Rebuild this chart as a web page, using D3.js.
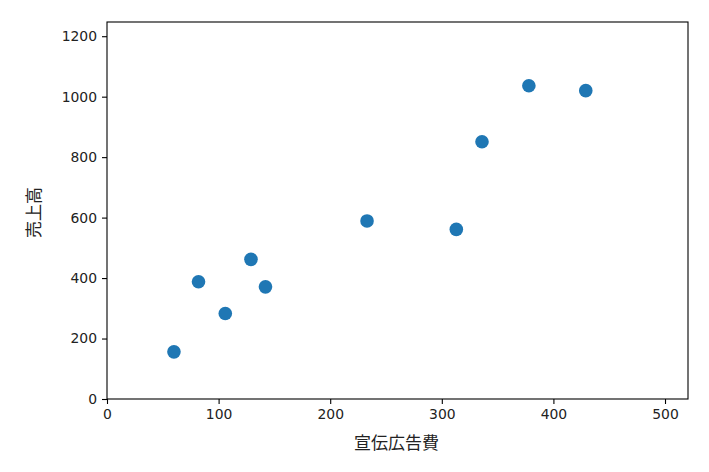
<!DOCTYPE html>
<html><head><meta charset="utf-8">
<script src="https://cdn.jsdelivr.net/npm/d3@7"></script>
<style>body{margin:0;background:#fff}</style>
</head><body>
<script>
const adSpend = [60, 82, 106, 129, 142, 233, 313, 336, 378, 429];
const sales   = [156, 388, 283, 462, 371, 589, 561, 851, 1036, 1020];
const xTicks = [0, 100, 200, 300, 400, 500];
const yTicks = [0, 200, 400, 600, 800, 1000, 1200];
const xLabel = "宣伝広告費";
const yLabel = "売上高";

const W = 709, H = 472;
const L = 107, R = 688, T = 22, B = 399;
const svg = d3.select("body").append("svg").attr("width", W).attr("height", H);
const x = d3.scaleLinear().domain([0, 520.6]).range([L, R]);
const y = d3.scaleLinear().domain([0, 1247]).range([B, T]);
const tickFont = "DejaVu Sans, sans-serif";

const gx = svg.append("g").attr("transform", `translate(0,${B})`)
  .call(d3.axisBottom(x).tickValues(xTicks).tickSize(5).tickPadding(5).tickFormat(d3.format("d")));
const gy = svg.append("g").attr("transform", `translate(${L},0)`)
  .call(d3.axisLeft(y).tickValues(yTicks).tickSize(5).tickPadding(5).tickFormat(d3.format("d")));
[gx, gy].forEach(g => {
  g.select(".domain").remove();
  g.selectAll("line").attr("stroke", "#000").attr("stroke-width", 1.1);
  g.selectAll("text").attr("font-family", tickFont).attr("font-size", 13.9).attr("fill", "#222");
});
svg.append("rect").attr("x", L).attr("y", T).attr("width", R - L).attr("height", B - T)
  .attr("fill", "none").attr("stroke", "#000").attr("stroke-width", 1.1);

svg.append("g").selectAll("circle").data(adSpend).join("circle")
  .attr("cx", d => x(d)).attr("cy", (d, i) => y(sales[i])).attr("r", 6.8).attr("fill", "#1f77b4");

svg.append("text").attr("x", (L + R) / 2 - 1).attr("y", 449).attr("text-anchor", "middle")
  .attr("font-family", "Noto Sans CJK JP, sans-serif").attr("font-size", 17).attr("fill", "#222").text(xLabel);
svg.append("text").attr("transform", `translate(40,${(T + B) / 2 + 2}) rotate(-90)`).attr("text-anchor", "middle")
  .attr("font-family", "Noto Sans CJK JP, sans-serif").attr("font-size", 17).attr("fill", "#222").text(yLabel);
</script>
</body></html>
